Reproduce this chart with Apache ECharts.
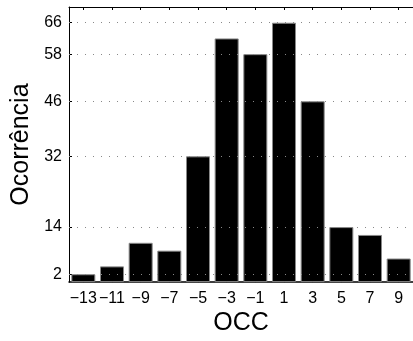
<!DOCTYPE html>
<html>
<head>
<meta charset="utf-8">
<script src="https://cdn.jsdelivr.net/npm/echarts@6/dist/echarts.min.js"></script>
<style>
html,body{margin:0;padding:0;background:#fff;}
#c{width:413px;height:341px;}
</style>
</head>
<body>
<div id="c"></div>
<script>
var categories = ["\u221213","\u221211","\u22129","\u22127","\u22125","\u22123","\u22121","1","3","5","7","9"];
var occurrences = [2, 4, 10, 8, 32, 62, 58, 66, 46, 14, 12, 6];
var yTicks = [2, 14, 32, 46, 58, 66];
var xTitle = "OCC";
var yTitle = "Ocorr\u00eancia";

var font = "Liberation Sans";
var chart = echarts.init(document.getElementById('c'), null, {renderer: 'canvas'});
chart.setOption({
  animation: false,
  backgroundColor: '#fff',
  grid: {left: 69, right: -6, top: 7, bottom: 57, containLabel: false},
  xAxis: [{
    type: 'category',
    data: categories,
    position: 'bottom',
    boundaryGap: true,
    splitLine: {show: false},
    axisLine: {lineStyle: {color: '#000', width: 1.5}},
    axisTick: {show: true, inside: true, alignWithLabel: true, length: 3, lineStyle: {color: '#000'}},
    axisLabel: {color: '#000', fontFamily: font, fontSize: 16, margin: 8, interval: 0},
    name: xTitle,
    nameLocation: 'middle',
    nameGap: 27,
    nameTextStyle: {color: '#000', fontFamily: font, fontSize: 25}
  }, {
    type: 'category',
    data: categories,
    position: 'top',
    boundaryGap: true,
    splitLine: {show: false},
    axisLine: {lineStyle: {color: '#000', width: 1}},
    axisTick: {show: true, inside: true, alignWithLabel: true, length: 3, lineStyle: {color: '#000'}},
    axisLabel: {show: false}
  }],
  yAxis: {
    type: 'value',
    min: 0,
    max: 70,
    axisLine: {show: true, lineStyle: {color: '#000', width: 1}},
    axisTick: {show: true, inside: true, length: 3, customValues: yTicks, lineStyle: {color: '#000'}},
    axisLabel: {color: '#000', fontFamily: font, fontSize: 16, margin: 7, customValues: yTicks},
    splitLine: {show: false},
    name: yTitle,
    nameLocation: 'middle',
    nameGap: 31,
    nameTextStyle: {color: '#000', fontFamily: font, fontSize: 25}
  },
  series: [{
    type: 'line',
    data: [],
    silent: true,
    z: 1,
    markLine: {
      silent: true,
      symbol: ['none', 'none'],
      label: {show: false},
      lineStyle: {color: '#888', type: [1, 7], width: 1},
      data: yTicks.map(function (v) { return {yAxis: v}; })
    }
  }, {
    type: 'bar',
    data: occurrences,
    barWidth: 24,
    itemStyle: {color: '#000', borderColor: '#888', borderWidth: 1},
    z: 3
  }]
});
</script>
</body>
</html>
